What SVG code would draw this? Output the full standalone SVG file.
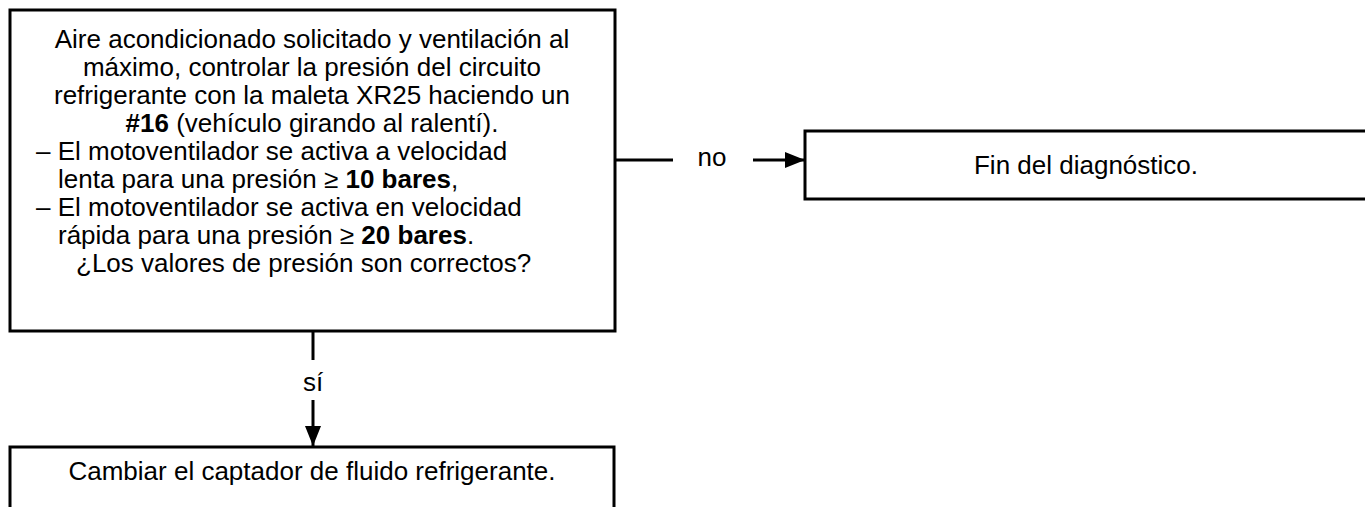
<svg xmlns="http://www.w3.org/2000/svg" width="1365" height="507" viewBox="0 0 1365 507">
<style>
.box{fill:#fff;stroke:#000;stroke-width:3}
.t{font-family:"Liberation Sans",Arial,sans-serif;font-size:26px;fill:#000}
.c{text-anchor:middle}
.b{font-weight:bold}
.ln{stroke:#000;stroke-width:3;fill:none}
</style>
<defs>
<marker id="ah" markerUnits="userSpaceOnUse" markerWidth="20" markerHeight="20" viewBox="0 0 20 20" refX="20" refY="10" orient="auto">
<path d="M0,2 L20,10 L0,18 Z" fill="#000"/>
</marker>
</defs>
<g id="connectors">
<line class="ln" x1="313" y1="331" x2="313" y2="360"/>
<text class="t c" x="313" y="391">sí</text>
<line class="ln" x1="313" y1="400" x2="313" y2="446" marker-end="url(#ah)"/>
<line class="ln" x1="615" y1="160" x2="673" y2="160"/>
<text class="t c" x="712" y="166">no</text>
<line class="ln" x1="753" y1="160" x2="805" y2="160" marker-end="url(#ah)"/>
</g>
<g id="n1">
<rect class="box" x="10" y="10" width="605" height="321"/>
<text class="t c" x="312" y="48">Aire acondicionado solicitado y ventilación al</text>
<text class="t c" x="312" y="76">máximo, controlar la presión del circuito</text>
<text class="t c" x="312" y="104">refrigerante con la maleta XR25 haciendo un</text>
<text class="t c" x="312" y="132"><tspan class="b">#16</tspan> (vehículo girando al ralentí).</text>
<text class="t" x="36" y="160">– El motoventilador se activa a velocidad</text>
<text class="t" x="58" y="188">lenta para una presión ≥ <tspan class="b">10 bares</tspan>,</text>
<text class="t" x="36" y="216">– El motoventilador se activa en velocidad</text>
<text class="t" x="58" y="244">rápida para una presión ≥ <tspan class="b">20 bares</tspan>.</text>
<text class="t" x="76" y="272">¿Los valores de presión son correctos?</text>
</g>
<g id="n2">
<rect class="box" x="805" y="131" width="562" height="68"/>
<text class="t c" x="1086" y="174">Fin del diagnóstico.</text>
</g>
<g id="n3">
<rect class="box" x="10" y="447" width="604" height="80"/>
<text class="t c" x="312" y="480">Cambiar el captador de fluido refrigerante.</text>
</g>
</svg>
